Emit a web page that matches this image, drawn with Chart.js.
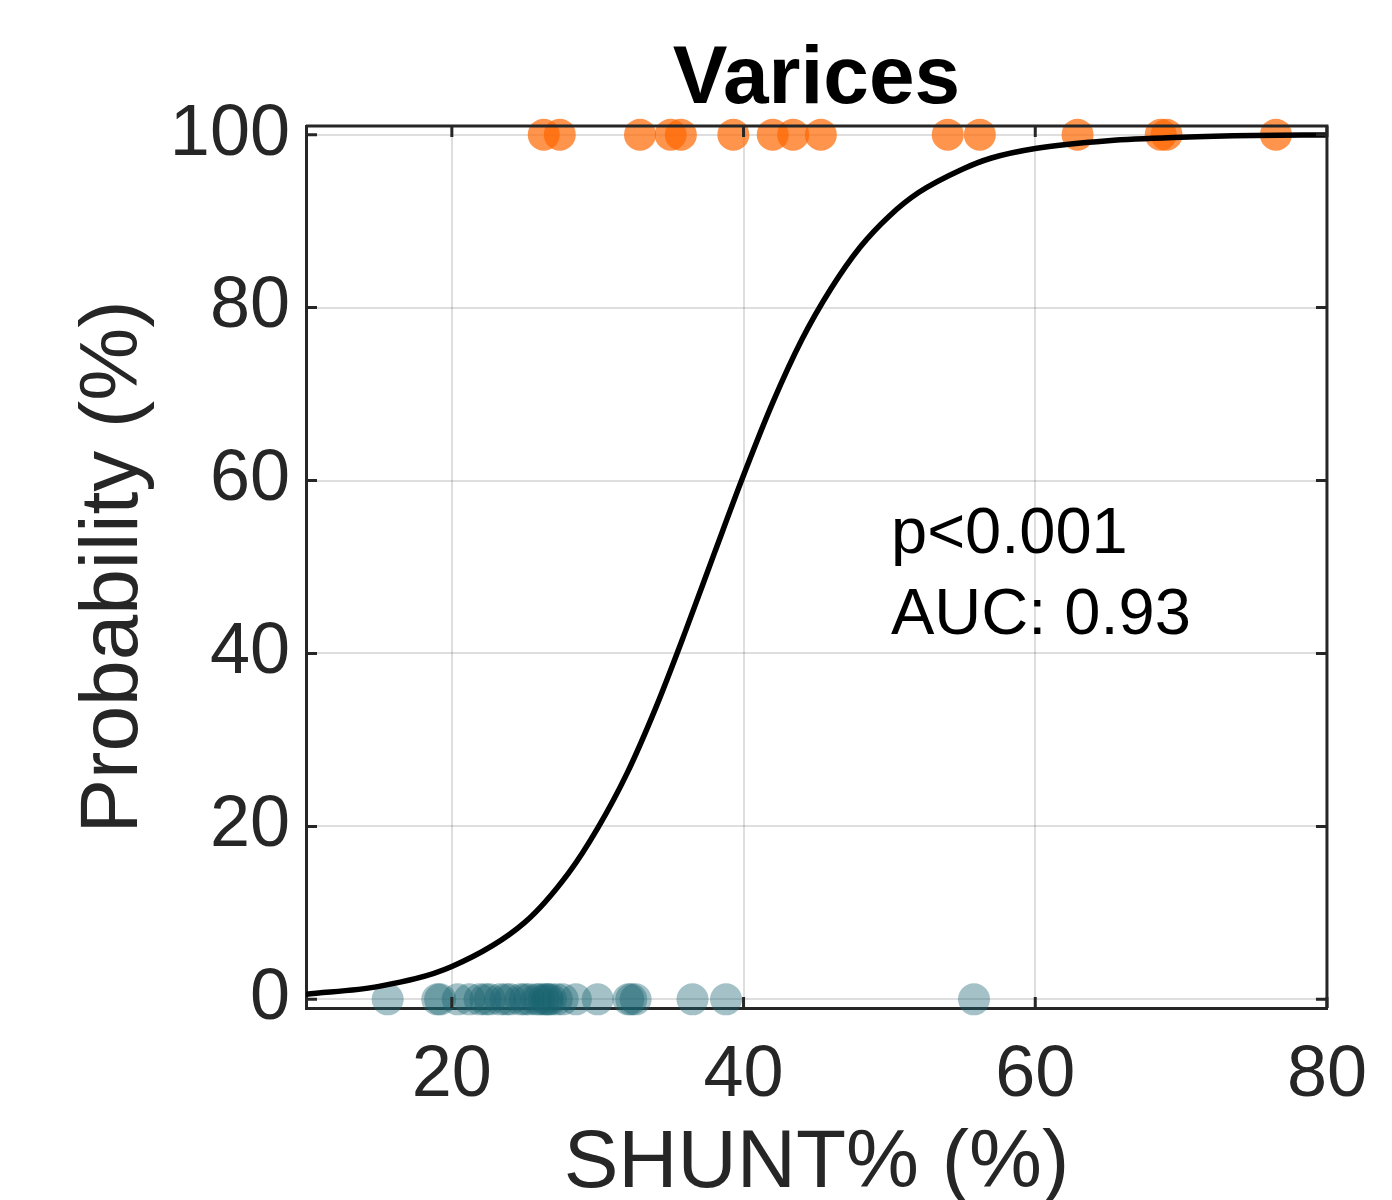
<!DOCTYPE html>
<html>
<head>
<meta charset="utf-8">
<script src="https://cdn.jsdelivr.net/npm/chart.js@4.4.1/dist/chart.umd.min.js"></script>
<style>
  html, body { margin: 0; padding: 0; background: #fff; }
  #wrap { width: 1392px; height: 1200px; }
</style>
</head>
<body>
<div id="wrap"><canvas id="myChart" width="1392" height="1200"></canvas></div>
<script>
// SHUNT% of patients with varices (plotted at 100 %)
const shuntWithVarices = [26.3, 27.4, 32.9, 35.0, 35.7, 39.3, 42.0, 43.4, 45.3, 54.0, 56.2, 62.9, 68.6, 69.0, 76.5];
// SHUNT% of patients without varices (plotted at 0 %)
const shuntWithoutVarices = [15.6, 19.0, 19.2, 20.4, 21.2, 21.9, 22.3, 22.6, 23.3, 23.7, 24.0, 24.7, 25.0, 25.3, 25.8,
  26.0, 26.3, 26.5, 26.6, 26.8, 27.2, 27.6, 28.5, 30.0, 32.1, 32.3, 32.6, 36.5, 38.8, 55.8];

// fitted probability curve
const curveX = [10, 15, 20, 25, 28, 30, 32, 34, 36, 38, 40, 42, 44, 46, 48, 50, 52, 55, 57, 60, 65, 70, 75, 80];
const curveProb = [0.6, 1.5, 3.8, 8.9, 14.6, 19.8, 26.1, 33.8, 42.5, 51.6, 60.6, 69.0, 76.3, 82.2, 87.0, 90.6, 93.3, 96.0, 97.3, 98.4, 99.3, 99.7, 99.9, 99.96];

const xTicks = [20, 40, 60, 80];
const yTicks = [0, 20, 40, 60, 80, 100];

const FONT = '"Liberation Sans", Arial, Helvetica, sans-serif';
const AXIS_COLOR = '#262626';

document.addEventListener("DOMContentLoaded", function() {
    const data = {
        datasets: [
            {
                type: 'line',
                label: 'Fit',
                data: curveX.map((x, i) => ({ x: x, y: curveProb[i] })),
                borderColor: '#000',
                borderWidth: 5.5,
                pointRadius: 0,
                cubicInterpolationMode: 'monotone',
                fill: false,
                order: 0
            },
            {
                type: 'scatter',
                label: 'Varices',
                data: shuntWithVarices.map(x => ({ x: x, y: 100 })),
                backgroundColor: 'rgba(255, 102, 0, 0.7)',
                borderWidth: 0,
                pointRadius: 16,
                pointHoverRadius: 16,
                clip: false,
                order: 1
            },
            {
                type: 'scatter',
                label: 'No varices',
                data: shuntWithoutVarices.map(x => ({ x: x, y: 0 })),
                backgroundColor: 'rgba(26, 100, 112, 0.4)',
                borderWidth: 0,
                pointRadius: 16,
                pointHoverRadius: 16,
                clip: false,
                order: 2
            }
        ]
    };

    // title, annotation text, box on top/right and inward ticks
    const decorations = {
        id: 'decorations',
        afterDraw(chart) {
            const ctx = chart.ctx;
            const a = chart.chartArea;
            const xs = chart.scales.x, ys = chart.scales.y;
            ctx.save();
            ctx.strokeStyle = AXIS_COLOR;
            ctx.lineWidth = 3;
            ctx.beginPath();
            ctx.moveTo(a.left, a.top);
            ctx.lineTo(a.right, a.top);
            ctx.lineTo(a.right, a.bottom);
            ctx.stroke();
            const tl = 11;
            ctx.beginPath();
            xTicks.forEach(v => {
                const px = xs.getPixelForValue(v);
                ctx.moveTo(px, a.bottom); ctx.lineTo(px, a.bottom - tl);
                ctx.moveTo(px, a.top); ctx.lineTo(px, a.top + tl);
            });
            yTicks.forEach(v => {
                const py = ys.getPixelForValue(v);
                ctx.moveTo(a.left, py); ctx.lineTo(a.left + tl, py);
                ctx.moveTo(a.right, py); ctx.lineTo(a.right - tl, py);
            });
            ctx.stroke();

            ctx.fillStyle = '#000';
            ctx.font = 'bold 82px ' + FONT;
            ctx.textAlign = 'center';
            ctx.textBaseline = 'alphabetic';
            ctx.fillText('Varices', (a.left + a.right) / 2, 103);

            ctx.font = '65px ' + FONT;
            ctx.textAlign = 'left';
            ctx.fillText('p<0.001', 891, 553);
            ctx.fillText('AUC: 0.93', 891, 634);
            ctx.restore();
        }
    };

    const options = {
        responsive: false,
        animation: false,
        layout: { padding: { top: 126, right: 64, left: 0, bottom: 0 } },
        plugins: {
            legend: { display: false },
            tooltip: { enabled: false }
        },
        scales: {
            x: {
                type: 'linear',
                min: 10,
                max: 80,
                afterBuildTicks: s => { s.ticks = xTicks.map(v => ({ value: v })); },
                afterFit: s => { s.height = 192; },
                grid: { color: 'rgba(0,0,0,0.13)', lineWidth: 2, drawTicks: false },
                border: { color: AXIS_COLOR, width: 3 },
                ticks: {
                    color: AXIS_COLOR,
                    padding: 25,
                    maxRotation: 0,
                    font: { family: FONT, size: 72 }
                },
                title: {
                    display: true,
                    text: 'SHUNT% (%)',
                    color: AXIS_COLOR,
                    font: { family: FONT, size: 82, lineHeight: 1 },
                    padding: { top: 0, bottom: -5 }
                }
            },
            y: {
                type: 'linear',
                min: -1,
                max: 101,
                afterBuildTicks: s => { s.ticks = yTicks.map(v => ({ value: v })); },
                afterFit: s => { s.width = 306; },
                grid: { color: 'rgba(0,0,0,0.13)', lineWidth: 2, drawTicks: false },
                border: { color: AXIS_COLOR, width: 3 },
                ticks: {
                    color: AXIS_COLOR,
                    padding: 16,
                    font: { family: FONT, size: 72 }
                },
                title: {
                    display: true,
                    text: 'Probability (%)',
                    color: AXIS_COLOR,
                    font: { family: FONT, size: 82, lineHeight: 1 },
                    padding: { top: 73, bottom: 0 }
                }
            }
        }
    };

    const ctx = document.getElementById('myChart').getContext('2d');
    const myChart = new Chart(ctx, {
        type: 'scatter',
        data: data,
        options: options,
        plugins: [decorations]
    });
});
</script>
</body>
</html>
